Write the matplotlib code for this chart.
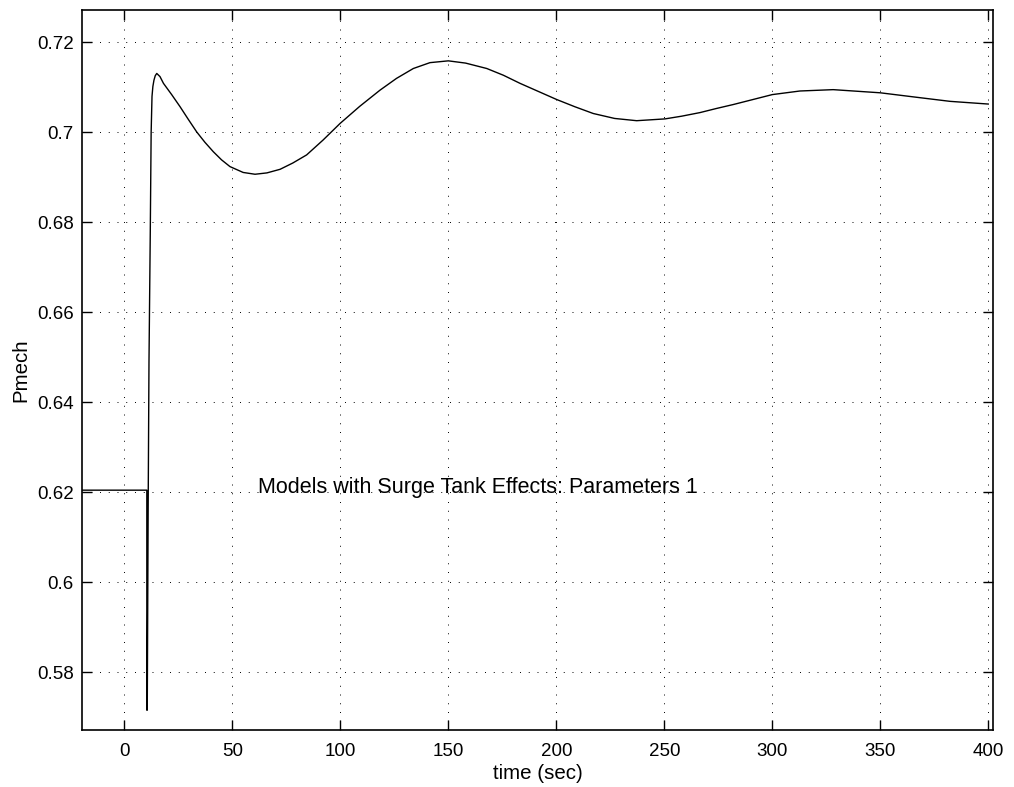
import matplotlib
matplotlib.use('Agg')
import matplotlib.pyplot as plt

# readings
time_sec = [-20, 10.4, 10.4, 10.6, 11.0, 11.4, 12.0, 12.4, 12.8, 13.2, 13.7, 14.3,
            15.0, 16.5, 18.1, 21.9, 25.8, 29.6, 33.5, 37.3, 41.2, 45.0, 48.9,
            55.0, 60.5, 66.0, 72.1, 78.0, 84.4, 92.0, 99.9, 109.0, 118.4, 126.0,
            133.8, 141.5, 150.0, 158.0, 167.8, 175.5, 183.2, 191.7, 200.2, 208.6,
            217.1, 227.0, 237.2, 250.3, 258.0, 266.5, 274.0, 282.0, 291.0, 300.0,
            312.8, 328.2, 350.0, 366.9, 382.3, 400.0]
pmech = [0.6205, 0.6205, 0.5716, 0.5716, 0.615, 0.649, 0.678, 0.700, 0.708, 0.7102,
         0.7116, 0.7126, 0.7131, 0.7124, 0.7109, 0.7084, 0.7057, 0.7029, 0.7001,
         0.6978, 0.6957, 0.6939, 0.6924, 0.6911, 0.6907, 0.6910, 0.6918, 0.6932,
         0.6950, 0.6983, 0.7020, 0.7058, 0.7094, 0.7120, 0.7142, 0.7155, 0.7159,
         0.7154, 0.7142, 0.7127, 0.7109, 0.7091, 0.7073, 0.7057, 0.7042, 0.7031,
         0.7026, 0.7030, 0.7036, 0.7044, 0.7053, 0.7062, 0.7073, 0.7084, 0.7092,
         0.7095, 0.7088, 0.7078, 0.7069, 0.7063]

x_ticks = [0, 50, 100, 150, 200, 250, 300, 350, 400]
y_ticks = [0.58, 0.6, 0.62, 0.64, 0.66, 0.68, 0.7, 0.72]
y_tick_labels = ['0.58', '0.6', '0.62', '0.64', '0.66', '0.68', '0.7', '0.72']

plt.rcParams['font.family'] = ['Liberation Sans', 'DejaVu Sans']
plt.rcParams['font.size'] = 13.5

fig = plt.figure(figsize=(10.14, 7.87), dpi=100)
ax = fig.add_axes([0.0809, 0.0724, 0.8984, 0.9149])

ax.plot(time_sec, pmech, color='k', linewidth=1.0)

ax.set_xlim(-19.6, 402.2)
ax.set_ylim(0.5672, 0.7272)
ax.set_xticks(x_ticks)
ax.set_yticks(y_ticks)
ax.set_yticklabels(y_tick_labels)

ax.grid(True, color='k', linewidth=0.7, linestyle=(0, (1, 8)))
ax.tick_params(direction='in', length=7, width=1.0, top=True, right=True)
ax.tick_params(axis='x', pad=9)
ax.tick_params(axis='y', pad=6)
for s in ax.spines.values():
    s.set_linewidth(1.2)

ax.set_xlabel('time (sec)', fontsize=14.8, labelpad=3.5)
ax.set_ylabel('Pmech', fontsize=14.8, labelpad=5)

ax.text(61.9, 0.6198, 'Models with Surge Tank Effects: Parameters 1',
        fontsize=15.5, ha='left', va='baseline')

fig.savefig('out.png', dpi=100)
